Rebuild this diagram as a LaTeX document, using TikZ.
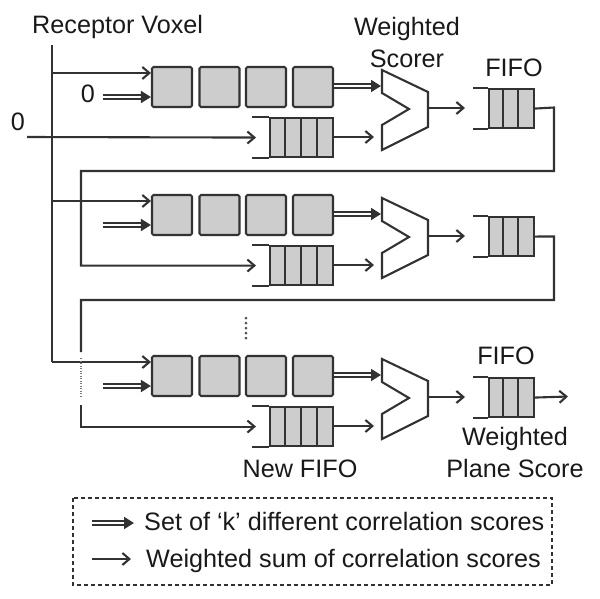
\documentclass[tikz,border=0pt]{standalone}
\usepackage{fontspec}
\setmainfont{Liberation Sans}
\usetikzlibrary{arrows.meta}
\definecolor{ln}{RGB}{50,50,50}
\definecolor{bx}{RGB}{205,205,205}
\definecolor{tx}{RGB}{25,25,25}
\begin{document}
\begin{tikzpicture}[x=1pt,y=-1pt,
  lbl/.style={font=\fontsize{25.2}{29}\selectfont, text=tx, inner sep=0pt},
  wire/.style={draw=ln, line width=2.1pt},
  arr/.style={wire, -{Straight Barb[length=7pt,width=12pt]}},
  dbl/.style={draw=ln, line width=1.8pt, double=white, double distance=1.9pt, -{Triangle[length=10pt,width=12pt]}},
  cell/.style={draw=ln, fill=bx, line width=2.1pt, rounded corners=1.5pt, minimum width=40pt, minimum height=40pt, inner sep=0pt},
  fifo/.style={draw=ln, fill=bx, line width=2.1pt, minimum height=39pt, inner sep=0pt, anchor=north west},
]
\useasboundingbox (0,0) rectangle (600,598);

\foreach \r/\o in {1/0, 2/128, 3/289} {
  % register boxes
  \foreach \i/\x in {1/172, 2/219.5, 3/266, 4/313}
    \node[cell] (b\r\i) at (\x, 87+\o) {};
  % small FIFO
  \node[fifo, minimum width=63pt] (s\r) at (269, 117+\o) {};
  \foreach \v in {285,301,317}
    \draw[wire] (\v, 117+\o) -- (\v, 156+\o);
  \draw[wire] (s\r.north west) -- ++(-17,0);
  \draw[wire] (s\r.south west) -- ++(-17,0);
  % weighted scorer
  \draw[wire, line join=miter] (382,70+\o) -- (428,92+\o) -- (428,127+\o) -- (382,150+\o)
     -- (382,125+\o) -- (409,109+\o) -- (382,93+\o) -- cycle;
  \coordinate (si\r) at (381, 86+\o);
  \coordinate (sl\r) at (374, 137+\o);
  \coordinate (so\r) at (428, 108+\o);
  \coordinate (oi\r) at (465, 108+\o);
  % output FIFO
  \node[fifo, minimum width=45pt] (o\r) at (488, 88+\o) {};
  \foreach \v in {503,518}
    \draw[wire] (\v, 88+\o) -- (\v, 127+\o);
  \draw[wire] (o\r.north west) -- ++(-15,0);
  \draw[wire] (o\r.south west) -- ++(-15,0);
  % connectors
  \coordinate (L\r) at (52, 73+\o);
  \coordinate (D\r) at (103, 97+\o);
  \draw[arr] (L\r) -- (L\r -| b\r1.west);
  \draw[dbl] (D\r) -- (D\r -| b\r1.west);
  \draw[dbl] (b\r4.east |- si\r) -- (si\r);
  \draw[arr] (s\r.east |- sl\r) -- (sl\r);
  \draw[arr] (so\r) -- (oi\r);
}

% receptor voxel bus
\coordinate (rvtop) at (52,45);
\draw[wire] (rvtop) -- (L3);

% zero input to first new FIFO
\coordinate (z0) at (27,137);
\draw[arr] (z0) -- ([xshift=-13pt]s1.west);

% feedback 1
\coordinate (fa1) at (554,107.5);
\coordinate (fb1) at (81,171);
\draw[arr] (o1.east) -- (fa1) |- (fb1) |- ([xshift=-13pt]s2.west);

% feedback 2
\coordinate (fa2) at (554,236.5);
\coordinate (fb2) at (81,300);
\coordinate (fc2) at (81,352);
\coordinate (fd2) at (81,358);
\coordinate (fe2) at (81,396);
\coordinate (ff2) at (81,405);
\draw[wire] (o2.east) -- (fa2) |- (fb2) -- (fc2);
\draw[draw=ln!65, line width=1.6pt, dash pattern=on 1pt off 1.5pt] (fd2) -- (fe2);
\draw[arr] (ff2) |- ([xshift=-13pt]s3.west);

% final output
\coordinate (out3) at (568,396.5);
\draw[arr] (o3.east) -- (out3);

% vertical dots
\foreach \k in {0,...,4}
  \fill[ln!85] (246, 318+5*\k) circle (1.5pt);

% labels
\node[lbl, anchor=base west] (tRV) at (32,33) {Receptor Voxel};
\node[lbl, anchor=base] (t01) at (88,102) {0};
\node[lbl, anchor=base] (t00) at (18,130) {0};
\node[lbl, anchor=base] (tWS1) at (407,35) {Weighted};
\node[lbl, anchor=base] (tWS2) at (407,67) {Scorer};
\node[lbl, anchor=base] (tF1) at (514,76) {FIFO};
\node[lbl, anchor=base] (tF3) at (506,364) {FIFO};
\node[lbl, anchor=base] (tWP1) at (515,445) {Weighted};
\node[lbl, anchor=base] (tWP2) at (515,477) {Plane Score};
\node[lbl, anchor=base] (tNF) at (300,477) {New FIFO};

% legend
\draw[draw=ln, line width=1.5pt, dash pattern=on 4pt off 3pt] (73,498) rectangle (552,585);
\coordinate (lg1a) at (92,523);
\coordinate (lg1b) at (134,523);
\coordinate (lg2a) at (92,559);
\coordinate (lg2b) at (131,559);
\draw[dbl] (lg1a) -- (lg1b);
\draw[arr] (lg2a) -- (lg2b);
\node[lbl, anchor=base west] (tL1) at (144,530) {Set of `k' different correlation scores};
\node[lbl, anchor=base west] (tL2) at (146,567) {Weighted sum of correlation scores};
\end{tikzpicture}
\end{document}
